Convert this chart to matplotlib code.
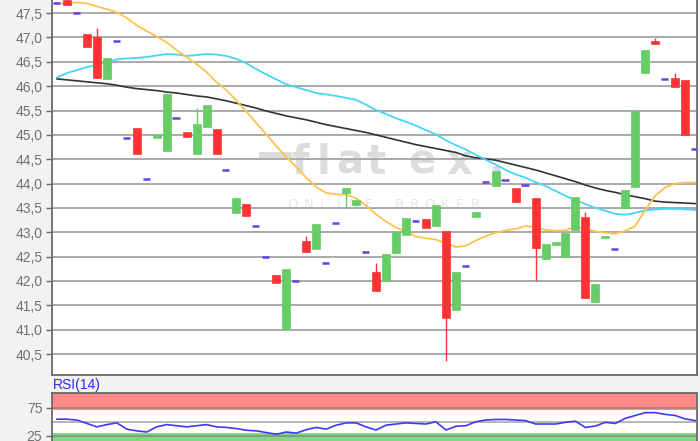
import matplotlib
matplotlib.use("Agg")
import matplotlib.pyplot as plt
from matplotlib.patches import Rectangle
import numpy as np

# ---------------- data ----------------
open_ = [47.70, 47.78, 47.50, 47.07, 47.00, 46.15, 46.92, 44.94, 45.14, 44.10,
         44.94, 44.67, 45.35, 45.06, 44.60, 45.16, 45.12, 44.28, 43.39, 43.59,
         43.13, 42.50, 42.13, 41.02, 41.99, 42.83, 42.66, 42.37, 43.20, 43.81,
         43.56, 42.60, 42.19, 41.99, 42.58, 42.95, 43.24, 43.28, 43.13, 43.02,
         41.41, 42.30, 43.32, 44.04, 43.96, 44.08, 43.91, 43.98, 43.71, 42.46,
         42.73, 42.50, 43.05, 43.32, 41.56, 42.89, 42.66, 43.50, 43.94, 46.27,
         46.93, 46.15, 46.17, 46.13, 44.71]
close = [47.70, 47.66, 47.50, 46.80, 46.17, 46.58, 46.92, 44.94, 44.60, 44.10,
         45.00, 45.84, 45.35, 44.96, 45.22, 45.62, 44.60, 44.28, 43.70, 43.34,
         43.13, 42.50, 41.95, 42.25, 41.99, 42.60, 43.18, 42.37, 43.20, 43.91,
         43.67, 42.60, 41.80, 42.56, 43.00, 43.30, 43.24, 43.08, 43.57, 41.23,
         42.19, 42.30, 43.42, 44.04, 44.26, 44.08, 43.63, 43.98, 42.68, 42.75,
         42.81, 42.98, 43.73, 41.66, 41.93, 42.93, 42.66, 43.87, 45.50, 46.74,
         46.87, 46.15, 45.98, 45.00, 44.71]
high = [47.70, 47.80, 47.50, 47.07, 47.20, 46.58, 46.92, 44.94, 45.14, 44.10,
        45.00, 45.84, 45.35, 45.06, 45.56, 45.62, 45.12, 44.28, 43.72, 43.59,
        43.13, 42.50, 42.13, 42.25, 41.99, 42.93, 43.18, 42.37, 43.20, 43.91,
        43.67, 42.60, 42.37, 42.56, 43.00, 43.30, 43.24, 43.28, 43.57, 43.02,
        42.19, 42.30, 43.42, 44.04, 44.26, 44.08, 43.91, 43.98, 43.71, 42.75,
        42.81, 42.98, 43.73, 43.42, 41.93, 42.93, 42.66, 43.87, 45.50, 46.74,
        46.99, 46.15, 46.27, 46.13, 44.71]
low = [47.70, 47.66, 47.50, 46.80, 46.17, 46.15, 46.92, 44.94, 44.60, 44.10,
       44.94, 44.67, 45.35, 44.96, 44.60, 45.16, 44.60, 44.28, 43.39, 43.34,
       43.13, 42.50, 41.95, 41.02, 41.99, 42.60, 42.66, 42.37, 43.20, 43.50,
       43.56, 42.60, 41.80, 41.99, 42.58, 42.95, 43.24, 43.08, 43.13, 40.35,
       41.41, 42.30, 43.32, 44.04, 43.96, 44.08, 43.63, 43.98, 41.99, 42.46,
       42.73, 42.50, 43.05, 41.66, 41.56, 42.89, 42.66, 43.50, 43.94, 46.27,
       46.87, 46.15, 45.98, 45.00, 44.71]

ma_orange = [47.69, 47.71, 47.72, 47.70, 47.64, 47.58, 47.52, 47.40, 47.25, 47.13,
             47.02, 46.90, 46.74, 46.60, 46.45, 46.29, 46.08, 45.92, 45.70, 45.48,
             45.24, 45.01, 44.77, 44.55, 44.34, 44.12, 43.93, 43.81, 43.78, 43.77,
             43.70, 43.55, 43.37, 43.22, 43.10, 43.02, 42.91, 42.88, 42.85, 42.78,
             42.70, 42.72, 42.83, 42.92, 42.99, 43.04, 43.07, 43.13, 43.10, 43.05,
             43.03, 43.04, 43.12, 43.07, 43.02, 42.99, 42.97, 43.03, 43.13, 43.46,
             43.75, 43.92, 44.00, 44.02, 44.02]
ma_cyan = [46.18, 46.27, 46.33, 46.39, 46.44, 46.49, 46.55, 46.57, 46.58, 46.60,
           46.63, 46.66, 46.65, 46.62, 46.64, 46.66, 46.65, 46.62, 46.56, 46.47,
           46.35, 46.24, 46.14, 46.04, 45.98, 45.92, 45.86, 45.83, 45.80, 45.76,
           45.72, 45.62, 45.51, 45.43, 45.34, 45.27, 45.19, 45.10, 45.01, 44.89,
           44.79, 44.70, 44.59, 44.49, 44.39, 44.28, 44.19, 44.12, 44.03, 43.95,
           43.85, 43.75, 43.66, 43.58, 43.50, 43.44, 43.38, 43.36, 43.40, 43.45,
           43.47, 43.48, 43.48, 43.47, 43.46]
ma_black = [46.15, 46.13, 46.11, 46.09, 46.07, 46.05, 46.02, 45.98, 45.95, 45.93,
            45.91, 45.88, 45.86, 45.83, 45.80, 45.78, 45.74, 45.70, 45.65, 45.60,
            45.55, 45.49, 45.44, 45.39, 45.35, 45.31, 45.26, 45.21, 45.17, 45.13,
            45.09, 45.05, 45.00, 44.95, 44.90, 44.85, 44.80, 44.76, 44.72, 44.68,
            44.64, 44.57, 44.53, 44.51, 44.48, 44.43, 44.38, 44.33, 44.28, 44.22,
            44.16, 44.10, 44.04, 43.97, 43.91, 43.86, 43.82, 43.77, 43.73, 43.69,
            43.64, 43.62, 43.61, 43.60, 43.59]
rsi = [54.5, 54.5, 53, 47, 41, 45, 48, 37, 34, 32,
       41, 45, 43, 41, 43, 45, 41, 40, 38, 35,
       34, 31, 28, 32, 30, 36, 40, 37, 44, 48,
       48, 41, 35.5, 44, 46, 48, 47, 46, 50, 35.5,
       42, 43, 50, 53, 54, 54, 53, 52, 46, 46,
       46, 49, 51, 40, 42.5, 49, 47, 56, 61, 66,
       66, 63, 61, 55, 52]

price_ticks = [40.5, 41.0, 41.5, 42.0, 42.5, 43.0, 43.5, 44.0, 44.5, 45.0, 45.5, 46.0, 46.5, 47.0, 47.5]
rsi_ticks = [25, 75]

# ---------------- styling ----------------
W, H = 700, 441
FONT = "Liberation Sans"
GRAY_TXT = "#707070"
GRID = "#a9a9a9"
SPINE = "#6a6a6a"
RED = "#ff3333"
GREEN = "#66cc66"
PURPLE = "#6a3ee6"

fig = plt.figure(figsize=(W / 100, H / 100), dpi=100)
fig.patch.set_facecolor("#f2f2f2")

L, R = 52, 697
main_bot = 374.5
ax = fig.add_axes([L / W, (H - main_bot) / H, (R - L) / W, main_bot / H])
ax.set_facecolor("white")

n = len(close)
x = np.arange(n)
ax.set_xlim(-0.5, 64.19)
ax.set_ylim(40.08, 47.77)
ax.set_axisbelow(True)

ax.set_yticks(price_ticks)
ax.set_yticklabels([f"{t:.1f}".replace(".", ",") for t in price_ticks],
                   fontsize=10, color=GRAY_TXT, family=FONT)
ax.tick_params(axis="y", length=4, width=1, color=SPINE, pad=3)
ax.set_xticks([])
ax.grid(axis="y", color=GRID, linewidth=1.4)
for s in ["left", "bottom", "right"]:
    ax.spines[s].set_color(SPINE)
    ax.spines[s].set_linewidth(1.3)
ax.spines["top"].set_visible(False)

# watermark
wm_col = "#dcdcdc"
tf = fig.transFigure
def fx(px):
    return px / W
def fy(py):
    return (H - py) / H
ax.add_patch(Rectangle((fx(259), fy(159)), (292 - 259) / W, 7 / H,
                       transform=tf, color=wm_col, zorder=0.1, lw=0))
for ch, cx in zip("flatex", [300, 324, 350, 376, 422, 459]):
    ax.text(fx(cx), fy(174), ch, transform=tf, ha="center", va="baseline",
            fontsize=29, fontweight="bold", family="DejaVu Sans", color=wm_col, zorder=0.1)
ax.text(fx(497), fy(174), ".", transform=tf, ha="center", va="baseline",
        fontsize=29, fontweight="bold", family="DejaVu Sans", color=wm_col, zorder=0.1)
for k, ch in enumerate("ONLINE BROKER"):
    ax.text(fx(293 + k * 15.2), fy(205), ch, transform=tf, ha="center", va="center",
            fontsize=9.5, family="DejaVu Sans", color="#e6e6e6", zorder=0.1)

# moving averages
ax.plot(x, ma_black, color="#333333", lw=1.2, zorder=2)
ax.plot(x, ma_cyan, color="#44d6f2", lw=1.3, zorder=2)
ax.plot(x, ma_orange, color="#ffc34d", lw=1.3, zorder=2)

# candles
for i in range(n):
    o, h, l, c = open_[i], high[i], low[i], close[i]
    if h == l:
        ax.hlines(c, i - 0.42, i + 0.3, color=PURPLE, lw=1.8, zorder=3)
        continue
    col = GREEN if c >= o else RED
    if h > max(o, c) or l < min(o, c):
        ax.vlines(i, l, h, color=col, lw=1.0, zorder=3)
    ax.bar(i, abs(c - o), bottom=min(o, c), width=0.8, color=col,
           edgecolor=col, linewidth=0.5, zorder=3)

# RSI panel
rsi_top = 392.7
ax2 = fig.add_axes([L / W, 0, (R - L) / W, (H - rsi_top) / H])
ax2.set_facecolor("white")
ax2.set_xlim(-0.5, 64.19)
ax2.set_ylim(16.2, 101)
ax2.axhspan(70, 100, color="#ff8a8a", lw=0, zorder=0.2)
ax2.axhspan(0, 30, color="#88d488", lw=0, zorder=0.2)
ax2.axhline(100, color="#d86a6a", lw=1.2, zorder=0.6)
for yv in [25, 50, 75]:
    ax2.axhline(yv, color="#707070", lw=1.3, alpha=0.55, zorder=0.6)
ax2.plot(x, rsi, color="#3b3bf5", lw=1.2, zorder=2)
ax2.set_yticks(rsi_ticks)
ax2.set_yticklabels([str(t) for t in rsi_ticks], fontsize=10, color=GRAY_TXT, family=FONT)
ax2.tick_params(axis="y", length=4, width=1, color=SPINE, pad=3)
ax2.set_xticks([])
for s in ["left", "top", "right"]:
    ax2.spines[s].set_color(SPINE)
    ax2.spines[s].set_linewidth(1.3)
ax2.spines["bottom"].set_visible(False)

fig.text(fx(53), fy(385), "RSI(14)", fontsize=10, color="#2a2af0", family=FONT,
         ha="left", va="center")

fig.savefig("out.png", dpi=100, facecolor=fig.get_facecolor())
